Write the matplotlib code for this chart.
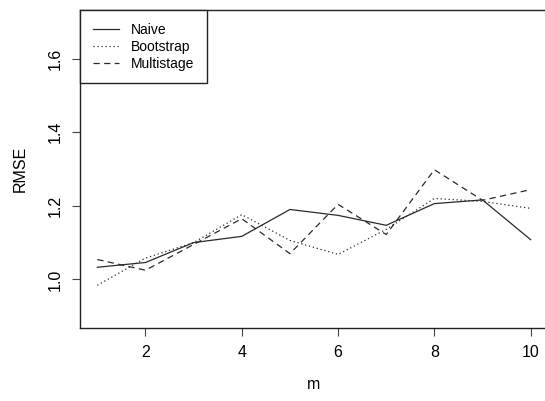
import matplotlib
matplotlib.use("Agg")
import matplotlib.pyplot as plt
import numpy as np

plt.rcParams['font.family'] = ['Liberation Sans', 'DejaVu Sans']

# RMSE by number of stages m
m = np.arange(1, 11)
naive = [1.033, 1.046, 1.100, 1.117, 1.190, 1.174, 1.147, 1.206, 1.216, 1.108]
bootstrap = [0.984, 1.058, 1.100, 1.176, 1.106, 1.068, 1.136, 1.220, 1.212, 1.193]
multistage = [1.054, 1.025, 1.095, 1.165, 1.070, 1.204, 1.122, 1.298, 1.215, 1.244]

xticks = [2, 4, 6, 8, 10]
yticks = [1.0, 1.2, 1.4, 1.6]

fig = plt.figure(figsize=(5.45, 4.01), dpi=100)
ax = fig.add_axes([80 / 545, 73 / 401, 468 / 545, 318 / 401])

col = '#2a2a2a'
ax.plot(m, naive, color=col, lw=0.9, linestyle='-', label='Naive')
ax.plot(m, bootstrap, color=col, lw=0.9, linestyle=(0, (1, 2.2)), label='Bootstrap')
ax.plot(m, multistage, color=col, lw=0.9, linestyle=(0, (5, 3.5)), label='Multistage')

ax.set_xlim(0.64, 10.36)
ax.set_ylim(0.868, 1.732)
ax.set_xticks(xticks)
ax.set_xticklabels([str(t) for t in xticks])
ax.set_yticks(yticks)
ax.set_yticklabels(['%.1f' % t for t in yticks], rotation=90, va='center')
ax.tick_params(direction='out', length=5.5, width=0.8, labelsize=11.5, pad=7, color='#444444')
for s in ax.spines.values():
    s.set_linewidth(1.0)
    s.set_color('#222222')

ax.set_xlabel('m', fontsize=11.5, labelpad=12)
ax.set_ylabel('RMSE', fontsize=11.5, labelpad=14)

leg = ax.legend(loc='upper left', borderaxespad=0, fancybox=False, edgecolor='#222222',
                framealpha=1, fontsize=10, handlelength=1.9, handletextpad=0.85,
                labelspacing=0.22, borderpad=0.9)
leg.get_frame().set_linewidth(1.0)

fig.savefig('out.png', dpi=100)
